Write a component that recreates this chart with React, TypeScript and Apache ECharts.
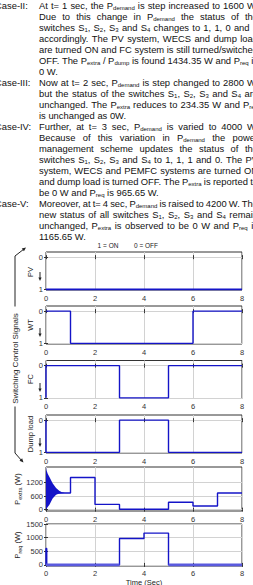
import React, { useEffect, useRef } from 'react';
import * as echarts from 'echarts';

// ---------- data ----------
const timeTicks = [0, 2, 4, 6, 8];
const switchTicks = [0, 1];

const pvTime = [0, 8];
const pvState = [1, 1];
const wtTime = [0, 1, 1, 6, 6, 8];
const wtState = [0, 0, 1, 1, 0, 0];
const fcTime = [0, 0, 3, 3, 5, 5, 8];
const fcState = [1, 0, 0, 1, 1, 0, 0];
const dumpTime = [0, 0, 3, 3, 5, 5, 8];
const dumpState = [0, 1, 1, 0, 0, 1, 1];

const pextraTime = [0, 1, 1, 2, 2, 3, 3, 5, 5, 6, 6, 7, 7, 8];
const pextraValue = [740, 740, 1434.35, 1434.35, 234.35, 234.35, 15, 15, 330, 330, 160, 160, 740, 740];
const transientTime = [0, 0.02, 0.07, 0.14, 0.27, 0.41, 0.54, 0.65, 0.75];
const transientUpper = [1900, 1750, 1600, 1450, 1180, 960, 840, 780, 750];
const transientLower = [0, 40, 120, 220, 500, 660, 720, 735, 740];
const pextraTicks = [0, 600, 1200];

const preqTime = [0, 0, 0.03, 0.03, 3, 3, 4, 4, 5, 5, 8];
const preqValue = [0, 600, 600, 0, 0, 965.65, 965.65, 1165.65, 1165.65, 0, 0];
const preqFloorTime = [0, 3, 4, 5, 8];
const preqFloorValue: (number | string)[] = [0, 0, '-', 0, 0];
const preqTicks = [0, 500, 1000, 1500];

const paragraph = [
  { label: 'Case-II:', j: true, t: 'At t= 1 sec, the P_{demand} is step increased to 1600 W.' },
  { j: true, t: 'Due to this change in P_{demand} the status of the' },
  { j: true, t: 'switches S_{1}, S_{2}, S_{3} and S_{4} changes to 1, 1, 0 and 1' },
  { j: true, t: 'accordingly. The PV system, WECS and dump load' },
  { j: true, t: 'are turned ON and FC system is still turned/switched' },
  { j: true, t: 'OFF. The P_{extra} / P_{dump} is found 1434.35 W and P_{req} is' },
  { j: false, t: '0 W.' },
  { label: 'Case-III:', j: true, t: 'Now at t= 2 sec, P_{demand} is step changed to 2800 W,' },
  { j: true, t: 'but the status of the switches S_{1}, S_{2}, S_{3} and S_{4} are' },
  { j: true, t: 'unchanged. The P_{extra} reduces to 234.35 W and P_{req}' },
  { j: false, t: 'is unchanged as 0W.' },
  { label: 'Case-IV:', j: true, t: 'Further, at t= 3 sec, P_{demand} is varied to 4000 W.' },
  { j: true, t: 'Because of this variation in P_{demand} the power' },
  { j: true, t: 'management scheme updates the status of the' },
  { j: true, t: 'switches S_{1}, S_{2}, S_{3} and S_{4} to 1, 1, 1 and 0. The PV' },
  { j: true, t: 'system, WECS and PEMFC systems are turned ON' },
  { j: true, t: 'and dump load is turned OFF. The P_{extra} is reported to' },
  { j: false, t: 'be 0 W and P_{req} is 965.65 W.' },
  { label: 'Case-V:', j: true, t: 'Moreover, at t= 4 sec, P_{demand} is raised to 4200 W. The' },
  { j: true, t: 'new status of all switches S_{1}, S_{2}, S_{3} and S_{4} remain' },
  { j: true, t: 'unchanged, P_{extra} is observed to be 0 W and P_{req} is' },
  { j: false, t: '1165.65 W.' },
];

// ---------- helpers ----------
const FONT = '"Liberation Sans", Arial, sans-serif';
const BLUE = '#1414c8';
const AX = '#333333';
const GRIDC = '#d2d2d2';
const P_SIZE = 9.4;
const SUB_SIZE = 6;
const INDENT = 39;
const LABEL_X = -5;
const RIGHT = 258;

let ctx: CanvasRenderingContext2D | null = null;
function measure(text: string, size: number) {
  if (!ctx) ctx = document.createElement('canvas').getContext('2d');
  ctx!.font = `${size}px ${FONT}`;
  return ctx!.measureText(text).width;
}
function parseWord(w: string) {
  const segs: { t: string; sub: boolean }[] = [];
  const re = /_\{([^}]*)\}/g;
  let last = 0;
  let m: RegExpExecArray | null;
  while ((m = re.exec(w))) {
    if (m.index > last) segs.push({ t: w.slice(last, m.index), sub: false });
    segs.push({ t: m[1], sub: true });
    last = re.lastIndex;
  }
  if (last < w.length) segs.push({ t: w.slice(last), sub: false });
  return segs;
}
function txt(x: number, y: number, text: string, size: number) {
  return {
    type: 'text', x, y, silent: true,
    style: { text, fontSize: size, fontFamily: FONT, fill: '#111', align: 'left', verticalAlign: 'middle' },
  };
}
function paragraphGraphics() {
  const out: any[] = [];
  paragraph.forEach((line: any, li) => {
    const y = 5 + li * 11;
    let x0 = INDENT;
    if (line.label) {
      out.push(txt(LABEL_X, y, line.label, P_SIZE));
      x0 = Math.max(INDENT, LABEL_X + measure(line.label + ' ', P_SIZE));
    }
    const words = line.t.split(' ').map(parseWord);
    const widths = words.map((segs: any[]) =>
      segs.reduce((s, g) => s + measure(g.t, g.sub ? SUB_SIZE : P_SIZE), 0)
    );
    const total = widths.reduce((a: number, b: number) => a + b, 0);
    const space = measure(' ', P_SIZE);
    const gap = line.j && words.length > 1 ? (RIGHT - x0 - total) / (words.length - 1) : space;
    let x = x0;
    words.forEach((segs: any[], wi: number) => {
      let sx = x;
      segs.forEach((g) => {
        const size = g.sub ? SUB_SIZE : P_SIZE;
        out.push(txt(sx, g.sub ? y + 2.6 : y, g.t, size));
        sx += measure(g.t, size);
      });
      x += widths[wi] + gap;
    });
  });
  return out;
}
function arrowHead(x1: number, y1: number, x2: number, y2: number, len: number, hw: number) {
  const dx = x2 - x1;
  const dy = y2 - y1;
  const d = Math.sqrt(dx * dx + dy * dy);
  const ux = dx / d;
  const uy = dy / d;
  const bx = x2 - ux * len;
  const by = y2 - uy * len;
  return {
    type: 'polygon',
    silent: true,
    shape: { points: [[x2, y2], [bx - uy * hw, by + ux * hw], [bx + uy * hw, by - ux * hw]] },
    style: { fill: '#222' },
  };
}
function seg(x1: number, y1: number, x2: number, y2: number) {
  return { type: 'line', silent: true, shape: { x1, y1, x2, y2 }, style: { stroke: '#222', lineWidth: 1 } };
}
function zip(a: number[], b: (number | string)[]) {
  return a.map((v, i) => [v, b[i]]);
}

// ---------- layout ----------
const panels = [
  { top: 252, height: 38, min: -0.16, max: 1.02, ticks: switchTicks, inverse: true },
  { top: 306, height: 38, min: -0.16, max: 1.02, ticks: switchTicks, inverse: true },
  { top: 360.5, height: 38, min: -0.16, max: 1.02, ticks: switchTicks, inverse: true },
  { top: 415, height: 38, min: -0.16, max: 1.02, ticks: switchTicks, inverse: true },
  { top: 467, height: 44, min: -60, max: 1900, ticks: pextraTicks, inverse: false },
  { top: 524, height: 42, min: -40, max: 1500, ticks: preqTicks, inverse: false },
];

const switchLabels = [
  { text: 'PV', cy: 272, tip: 281 },
  { text: 'WT', cy: 325, tip: 337 },
  { text: 'FC', cy: 379, tip: 392 },
  { text: 'Dump load', cy: 434, tip: 447 },
];

export default function App() {
  const ref = useRef<HTMLDivElement>(null);
  useEffect(() => {
    if (!ref.current) return;
    const chart = echarts.init(ref.current, null, { renderer: 'svg' });
    const lab = { fontSize: 7.5, color: AX, fontFamily: FONT, formatter: (v: number) => String(v) };
    const n = panels.length;

    const grids = panels.map((p) => ({
      left: 46, width: 196, top: p.top, height: p.height,
      show: true, borderColor: AX, borderWidth: 1, backgroundColor: 'transparent',
    }));
    const xAxes: any[] = panels.map((p, i) => ({
      type: 'value', gridIndex: i, min: 0, max: 8, interval: 2,
      axisLine: { show: false },
      axisTick: { show: true, inside: true, length: 2, lineStyle: { color: AX } },
      axisLabel: { ...lab, margin: i === n - 1 ? 3 : 4, customValues: timeTicks },
      splitLine: { show: true, lineStyle: { color: GRIDC, width: 1 } },
    }));
    const yAxes: any[] = panels.map((p, i) => ({
      type: 'value', gridIndex: i, min: p.min, max: p.max, inverse: p.inverse,
      axisLine: { show: false },
      axisTick: { show: true, inside: true, length: 2, lineStyle: { color: AX }, customValues: p.ticks },
      axisLabel: { ...lab, margin: 3, customValues: p.ticks },
      splitLine: { show: true, lineStyle: { color: GRIDC, width: 1 } },
    }));
    // mirrored tick marks on the top and right of every box
    panels.forEach((p, i) => {
      xAxes.push({
        type: 'value', gridIndex: i, position: 'top', min: 0, max: 8, interval: 2,
        axisLine: { show: false }, axisLabel: { show: false }, splitLine: { show: false },
        axisTick: { show: true, inside: true, length: 2, lineStyle: { color: AX } },
      });
      yAxes.push({
        type: 'value', gridIndex: i, position: 'right', min: p.min, max: p.max, inverse: p.inverse,
        axisLine: { show: false }, axisLabel: { show: false, customValues: p.ticks }, splitLine: { show: false },
        axisTick: { show: true, inside: true, length: 2, lineStyle: { color: AX }, customValues: p.ticks },
      });
    });
    const line = (i: number, data: any[], color = BLUE, width = 1.4) => ({
      type: 'line', xAxisIndex: i, yAxisIndex: i, data, symbol: 'none', showSymbol: false,
      lineStyle: { color, width }, itemStyle: { color }, silent: true, connectNulls: false,
    });

    const series: any[] = [
      line(0, zip(pvTime, pvState), BLUE, 1.8),
      line(1, zip(wtTime, wtState)),
      line(2, zip(fcTime, fcState)),
      line(3, zip(dumpTime, dumpState)),
      {
        type: 'custom', xAxisIndex: 4, yAxisIndex: 4, silent: true, data: [[0, 0]],
        renderItem: (params: any, api: any) => {
          const pts: number[][] = [];
          transientTime.forEach((t, k) => pts.push(api.coord([t, transientUpper[k]])));
          for (let k = transientTime.length - 1; k >= 0; k--) pts.push(api.coord([transientTime[k], transientLower[k]]));
          return { type: 'polygon', shape: { points: pts }, style: { fill: BLUE } };
        },
      },
      line(4, zip(pextraTime, pextraValue)),
      line(5, zip(preqTime, preqValue)),
      line(5, zip(preqFloorTime, preqFloorValue), '#5a5ade', 2.6),
    ];

    const graphics: any[] = [...paragraphGraphics()];
    const small = (x: number, y: number, text: string, size: number, rot = 0) => ({
      type: 'text', x, y, rotation: rot, silent: true,
      style: { text, fontSize: size, fontFamily: FONT, fill: '#222', align: 'center', verticalAlign: 'middle' },
    });
    graphics.push(
      small(108, 245, '1 = ON', 6.5),
      small(146, 245, '0 = OFF', 6.5),
      small(144, 582.5, 'Time (Sec)', 7.5),
      small(15, 358.5, 'Switching Control Signals', 8, Math.PI / 2),
      seg(15, 306.5, 15, 256), seg(15, 256, 24, 249), arrowHead(15, 256, 26, 247.5, 4, 1.8),
      seg(15, 406.5, 15, 453), seg(15, 453, 22, 461), arrowHead(15, 453, 23.5, 462.5, 4, 1.8),
    );
    switchLabels.forEach((s) => {
      graphics.push(
        small(30, s.cy, s.text, 7.5, Math.PI / 2),
        seg(40, s.tip - 9, 40, s.tip - 3),
        arrowHead(40, s.tip - 9, 40, s.tip, 3.5, 1.6),
      );
    });
    const rich = {
      a: { fontSize: 7.5, fontFamily: FONT, fill: '#222', lineHeight: 12 },
      b: { fontSize: 5.5, fontFamily: FONT, fill: '#222', lineHeight: 7, verticalAlign: 'bottom' },
    };
    graphics.push(
      { type: 'text', x: 17, y: 489, rotation: Math.PI / 2, silent: true, style: { text: '{a|P}{b|extra}{a| (W)}', rich, align: 'center', verticalAlign: 'middle' } },
      { type: 'text', x: 17, y: 545, rotation: Math.PI / 2, silent: true, style: { text: '{a|P}{b|req}{a| (W)}', rich, align: 'center', verticalAlign: 'middle' } },
    );

    chart.setOption({
      animation: false,
      grid: grids,
      xAxis: xAxes,
      yAxis: yAxes,
      series,
      graphic: graphics,
    });
    return () => chart.dispose();
  }, []);
  return <div ref={ref} style={{ position: 'fixed', left: 0, top: 0, width: 253, height: 585, overflow: 'hidden', background: '#fff' }} />;
}
